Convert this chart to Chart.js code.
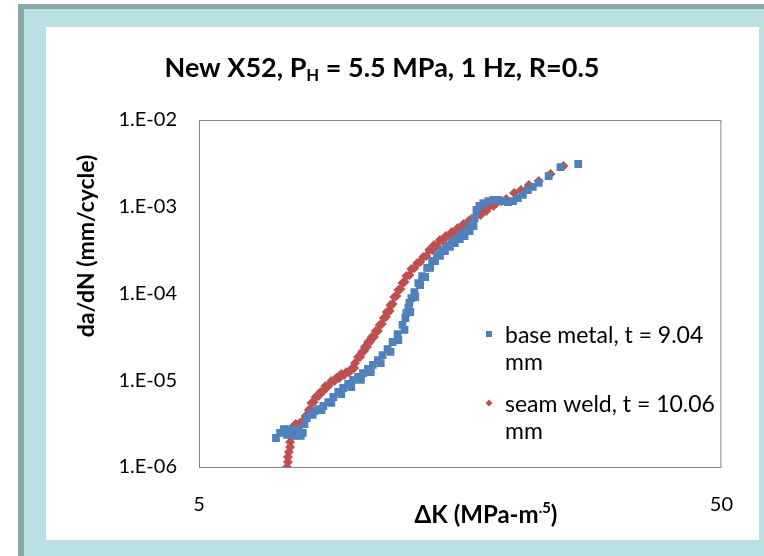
<!DOCTYPE html>
<html>
<head>
<meta charset="utf-8">
<script src="https://cdn.jsdelivr.net/npm/chart.js@4.4.1/dist/chart.umd.min.js"></script>
<style>
  html, body { margin: 0; padding: 0; background: #fff; }
  #shadow { position: absolute; left: 18px; top: 4px; width: 746px; height: 552px; background: #8ba6a8; }
  #frame { position: absolute; left: 24px; top: 9px; width: 740px; height: 547px; background: #b9e0e3; }
  #panel { position: absolute; left: 46px; top: 27px; width: 713px; height: 513px; background: #fff; }
  canvas { display: block; }
</style>
</head>
<body>
<div id="shadow"></div>
<div id="frame"></div>
<div id="panel"><canvas id="myChart" width="713" height="513"></canvas></div>
<script>
// values: delta K (MPa-m^.5) and da/dN (mm/cycle)
const baseK = [7.02, 7.15, 7.27, 7.37, 7.43, 7.59, 7.63, 7.76, 7.83, 7.90, 7.96, 8.04, 8.18, 8.32, 8.47,
    8.65, 8.84, 9.04, 9.24, 9.44, 9.65, 9.86, 10.08, 10.30, 10.53, 10.76, 11.0, 11.23, 11.48, 11.74,
    12.0, 12.26, 12.42, 12.47, 12.58, 12.64, 12.75, 12.92, 13.15, 13.37, 13.67, 13.97, 14.28, 14.59,
    14.91, 15.24, 15.57, 15.91, 16.26, 16.55, 16.84, 16.99, 17.21, 17.51, 17.90, 18.30, 18.69, 19.11,
    19.53, 19.96, 20.39, 20.84, 21.30, 21.77, 22.35, 23.35, 24.6, 26.6,
    8.25, 8.58, 8.96, 9.36, 9.78, 10.21, 10.66, 11.14, 11.63, 12.04, 12.37, 12.69, 12.97, 13.25,
    13.55, 13.85, 14.15, 14.46, 14.78, 15.11, 15.44, 15.78, 16.12, 16.48, 16.77];
const baseRate = [2.16e-6, 2.47e-6, 2.74e-6, 2.34e-6, 2.74e-6, 2.67e-6, 2.28e-6, 2.60e-6, 2.28e-6, 2.47e-6,
    3.13e-6, 3.67e-6, 4.08e-6, 4.42e-6, 4.66e-6, 5.05e-6, 5.61e-6, 6.41e-6, 7.32e-6, 8.14e-6, 9.06e-6,
    1.01e-5, 1.09e-5, 1.21e-5, 1.35e-5, 1.50e-5, 1.71e-5, 1.95e-5, 2.29e-5, 2.76e-5, 3.41e-5, 4.34e-5,
    5.22e-5, 5.96e-5, 6.81e-5, 7.77e-5, 8.87e-5, 1.04e-4, 1.32e-4, 1.59e-4, 1.97e-4, 2.37e-4, 2.78e-4,
    3.17e-4, 3.53e-4, 3.92e-4, 4.36e-4, 4.85e-4, 5.39e-4, 6.16e-4, 7.42e-4, 9.18e-4, 1.02e-3, 1.10e-3,
    1.16e-3, 1.20e-3, 1.20e-3, 1.16e-3, 1.13e-3, 1.16e-3, 1.26e-3, 1.37e-3, 1.56e-3, 1.69e-3, 1.88e-3,
    2.26e-3, 2.87e-3, 3.11e-3,
    3.98e-6, 4.54e-6, 5.47e-6, 6.94e-6, 8.36e-6, 1.01e-5, 1.24e-5, 1.58e-5, 2.12e-5, 2.91e-5, 3.80e-5,
    6.12e-5, 9.11e-5, 1.25e-4, 1.55e-4, 1.97e-4, 2.37e-4, 2.71e-4, 3.09e-4, 3.44e-4, 3.82e-4, 4.25e-4,
    4.60e-4, 5.25e-4, 6.00e-4];

const weldK = [7.37, 7.40, 7.40, 7.43, 7.47, 7.47, 7.50, 7.53, 7.56, 7.66, 7.80, 7.90, 8.00, 8.11, 8.21,
    8.36, 8.54, 8.73, 8.96, 9.16, 9.36, 9.56, 9.78, 9.95, 10.08, 10.26, 10.39, 10.53, 10.71, 10.90,
    11.09, 11.29, 11.44, 11.63, 11.83, 12.04, 12.26, 12.47, 12.75, 13.09, 13.43, 13.79, 14.09, 14.46,
    14.84, 15.24, 15.64, 16.05, 16.48, 16.99, 17.51, 17.98, 18.53, 18.94, 19.36, 20.05, 20.66, 21.40,
    22.35, 23.55, 24.92,
    8.29, 8.47, 8.65, 8.84, 9.08, 9.28, 9.48, 9.69, 9.91, 10.17, 10.35, 10.48, 10.62, 10.81, 11.0,
    11.19, 11.39, 11.58, 11.74, 11.94, 12.15, 12.37, 12.64, 12.92, 13.25, 13.61, 13.97, 14.28, 14.65,
    15.04, 15.44, 15.85, 16.26, 16.77, 17.29, 17.74, 18.30];
const weldRate = [1.00e-6, 1.14e-6, 1.30e-6, 1.49e-6, 1.70e-6, 1.94e-6, 2.22e-6, 2.53e-6, 2.89e-6, 3.13e-6,
    3.21e-6, 3.39e-6, 3.87e-6, 4.54e-6, 5.47e-6, 6.41e-6, 7.32e-6, 8.58e-6, 9.80e-6, 1.06e-5, 1.18e-5,
    1.24e-5, 1.35e-5, 1.58e-5, 1.85e-5, 2.12e-5, 2.42e-5, 2.76e-5, 3.15e-5, 3.70e-5, 4.34e-5, 5.22e-5,
    6.12e-5, 7.37e-5, 9.11e-5, 1.10e-4, 1.32e-4, 1.59e-4, 1.92e-4, 2.25e-4, 2.64e-4, 3.17e-4, 3.62e-4,
    4.14e-4, 4.60e-4, 5.12e-4, 5.69e-4, 6.32e-4, 7.03e-4, 8.03e-4, 9.18e-4, 1.02e-3, 1.10e-3, 1.16e-3,
    1.23e-3, 1.44e-3, 1.56e-3, 1.78e-3, 1.98e-3, 2.39e-3, 2.95e-3,
    5.61e-6, 6.58e-6, 7.52e-6, 8.58e-6, 9.80e-6, 1.06e-5, 1.15e-5, 1.24e-5, 1.38e-5, 1.85e-5, 2.17e-5,
    2.42e-5, 2.76e-5, 3.15e-5, 3.70e-5, 4.45e-5, 5.36e-5, 6.28e-5, 7.57e-5, 9.36e-5, 1.13e-4, 1.36e-4,
    1.63e-4, 1.97e-4, 2.31e-4, 2.71e-4, 3.17e-4, 3.53e-4, 4.03e-4, 4.48e-4, 4.98e-4, 5.54e-4, 6.16e-4,
    7.03e-4, 8.03e-4, 8.94e-4, 1.02e-3];

const seriesNames = [['base metal, t = 9.04', 'mm'], ['seam weld, t = 10.06', 'mm']];
const xTicks = [5, 50];
const yTicks = [1e-6, 1e-5, 1e-4, 1e-3, 1e-2];

const FONT = 'Lato, "Noto Sans", sans-serif';

function toPoints(xs, ys) {
    return xs.map((x, i) => ({ x: x, y: ys[i] }));
}

// draws a string made of normal / subscript / superscript runs, centred on cx
function drawRuns(ctx, runs, cx, cy, size) {
    let total = 0;
    runs.forEach(r => {
        ctx.font = 'bold ' + (r.shift ? size * 0.62 : size) + 'px ' + FONT;
        r.w = ctx.measureText(r.t).width;
        total += r.w;
    });
    let x = cx - total / 2;
    runs.forEach(r => {
        ctx.font = 'bold ' + (r.shift ? size * 0.62 : size) + 'px ' + FONT;
        ctx.fillText(r.t, x, cy + (r.shift || 0));
        x += r.w;
    });
}

const decor = {
    id: 'decor',
    beforeDatasetsDraw(chart) {
        const { ctx, chartArea: a } = chart;
        ctx.save();
        ctx.strokeStyle = '#868686';
        ctx.lineWidth = 1;
        ctx.strokeRect(a.left + 0.5, a.top + 0.5, a.right - a.left - 1, a.bottom - a.top);
        ctx.restore();
    },
    afterDraw(chart) {
        const ctx = chart.ctx;
        ctx.save();
        ctx.fillStyle = '#000';
        ctx.textAlign = 'left';
        ctx.textBaseline = 'middle';

        drawRuns(ctx, [
            { t: 'New X52, P' },
            { t: 'H', shift: 8 },
            { t: ' = 5.5 MPa, 1 Hz, R=0.5' }
        ], 336, 41, 27);

        drawRuns(ctx, [
            { t: 'ΔK (MPa-m' },
            { t: '.5', shift: -7 },
            { t: ')' }
        ], 440, 488, 24);

        ctx.save();
        ctx.translate(41, 219);
        ctx.rotate(-Math.PI / 2);
        ctx.font = 'bold 23px ' + FONT;
        ctx.textAlign = 'center';
        ctx.fillText('da/dN (mm/cycle)', 0, 0);
        ctx.restore();

        // legend
        const rows = [307, 376];
        ctx.font = '23px ' + FONT;
        chart.data.datasets.forEach((ds, i) => {
            const y = rows[i];
            ctx.fillStyle = ds.backgroundColor;
            ctx.beginPath();
            if (i === 0) {
                ctx.rect(440, y - 3, 6, 6);
            } else {
                ctx.moveTo(443, y - 3.5);
                ctx.lineTo(446.5, y);
                ctx.lineTo(443, y + 3.5);
                ctx.lineTo(439.5, y);
                ctx.closePath();
            }
            ctx.fill();
            ctx.fillStyle = '#000';
            seriesNames[i].forEach((line, j) => {
                ctx.fillText(line, 459, y + 2 + j * 27);
            });
        });
        ctx.restore();
    }
};

const ctx = document.getElementById('myChart').getContext('2d');
new Chart(ctx, {
    type: 'scatter',
    data: {
        datasets: [{
            label: seriesNames[0].join(' '),
            data: toPoints(baseK, baseRate),
            pointStyle: 'rect',
            pointRadius: 5.5,
            pointHoverRadius: 5.5,
            borderWidth: 0,
            backgroundColor: '#4f81bd',
            borderColor: '#4f81bd'
        }, {
            label: seriesNames[1].join(' '),
            data: toPoints(weldK, weldRate),
            pointStyle: 'rectRot',
            pointRadius: 5,
            pointHoverRadius: 5,
            borderWidth: 0,
            backgroundColor: '#c0504d',
            borderColor: '#c0504d'
        }]
    },
    options: {
        responsive: false,
        animation: false,
        layout: { padding: { top: 93, right: 31, left: 0, bottom: 0 } },
        plugins: {
            legend: { display: false },
            title: { display: false },
            tooltip: { enabled: false }
        },
        scales: {
            x: {
                type: 'logarithmic',
                min: 5,
                max: 50,
                grid: { display: false, drawTicks: false },
                border: { display: false },
                afterBuildTicks: scale => { scale.ticks = xTicks.map(v => ({ value: v })); },
                afterFit: scale => { scale.height = 73; },
                ticks: {
                    autoSkip: false,
                    maxRotation: 0,
                    padding: 26,
                    color: '#000',
                    font: { family: FONT, size: 20 },
                    callback: v => String(v)
                }
            },
            y: {
                type: 'logarithmic',
                min: 1e-6,
                max: 1e-2,
                grid: { display: false, drawTicks: false },
                border: { display: false },
                afterBuildTicks: scale => { scale.ticks = yTicks.map(v => ({ value: v })); },
                afterFit: scale => { scale.width = 153; },
                ticks: {
                    autoSkip: false,
                    padding: 22,
                    color: '#000',
                    font: { family: FONT, size: 20 },
                    callback: v => '1.E-' + String(Math.round(-Math.log10(v))).padStart(2, '0')
                }
            }
        }
    },
    plugins: [decor]
});
</script>
</body>
</html>
